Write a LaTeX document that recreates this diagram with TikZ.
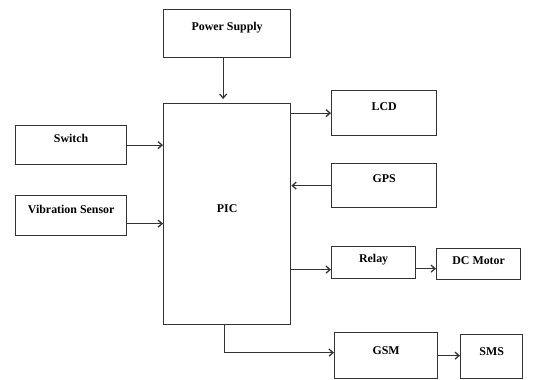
\documentclass[tikz,border=0pt]{standalone}
\usepackage{fontspec}
\setmainfont{Liberation Serif}
\usetikzlibrary{arrows.meta}

\tikzset{
  blk/.style={draw=black!80, line width=1.3pt, inner sep=0pt, anchor=north west,
    font=\fontsize{11.9}{14}\selectfont\bfseries},
  arr/.style={draw=black!80, line width=1.3pt, -{Straight Barb[length=4pt,width=7pt]}}
}

\begin{document}
\begin{tikzpicture}[x=1pt, y=-1pt]
\useasboundingbox (0,0) rectangle (536,380);

\node [blk, minimum width=127pt, text height=21pt, text depth=27pt] (power) at (163,9) {Power Supply};
\node [blk, minimum width=127pt, text height=109pt, text depth=112pt] (pic) at (163,103) {PIC};
\node [blk, minimum width=111pt, text height=17pt, text depth=22pt] (switch) at (15,125) {Switch};
\node [blk, minimum width=111pt, text height=18pt, text depth=22pt] (vib) at (15,195) {Vibration Sensor};
\node [blk, minimum width=105pt, text height=20pt, text depth=25pt] (lcd) at (331,90) {LCD};
\node [blk, minimum width=105pt, text height=19pt, text depth=25pt] (gps) at (331,163) {GPS};
\node [blk, minimum width=84pt, text height=16pt, text depth=16pt] (relay) at (331,246) {Relay};
\node [blk, minimum width=84pt, text height=16pt, text depth=15pt] (motor) at (436,248) {DC Motor};
\node [blk, minimum width=103pt, text height=22pt, text depth=24pt] (gsm) at (334,332) {GSM};
\node [blk, minimum width=62pt, text height=21pt, text depth=23pt] (sms) at (460,334) {SMS};

\draw [arr] ([xshift=-4pt]power.south) -- ([xshift=-4pt,yshift=4pt]pic.north);
\draw [arr] (switch.east) -- (switch.east -| pic.west);
\draw [arr] ([yshift=-8pt]vib.east) -- ([yshift=-8pt]vib.east -| pic.west);
\draw [arr] (lcd.west -| pic.east) -- (lcd.west);
\draw [arr] (gps.west) -- (gps.west -| pic.east);
\draw [arr] ([yshift=-7pt]relay.west -| pic.east) -- ([yshift=-7pt]relay.west);
\draw [arr] ([yshift=-6pt]relay.east) -- ([yshift=-6pt]relay.east -| motor.west);
\draw [arr] ([xshift=-3pt]pic.south) |- ([yshift=3pt]gsm.west);
\draw [arr] (gsm.east) -- (gsm.east -| sms.west);
\end{tikzpicture}
\end{document}
